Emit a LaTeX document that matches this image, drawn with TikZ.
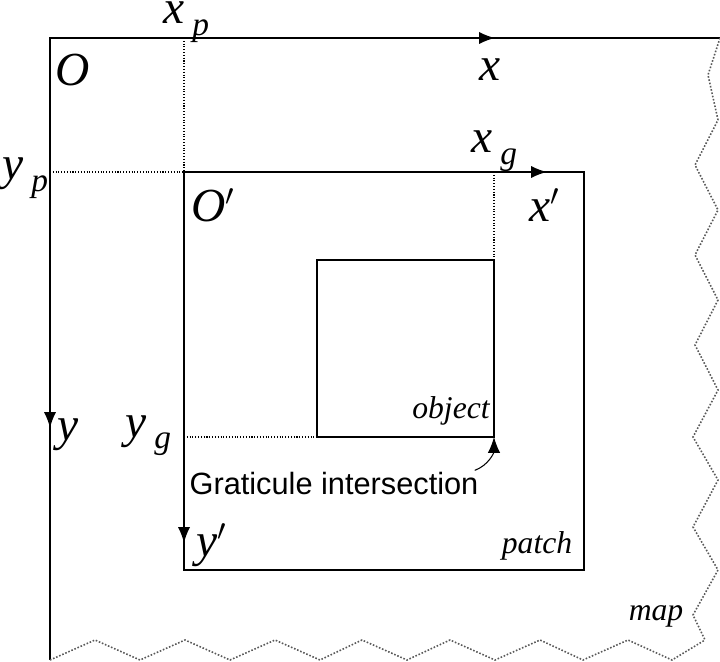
\documentclass[tikz,border=0pt]{standalone}
\usepackage{fontspec}
\setmainfont{Liberation Serif}
\setsansfont{Liberation Sans}
\usetikzlibrary{arrows.meta}
\newcommand{\sbx}[1]{\,\raisebox{-0.25em}{\fontsize{19}{19}\selectfont #1}}
\begin{document}
\begin{tikzpicture}[x=0.02cm,y=-0.02cm,
  ln/.style={line width=1.1pt},
  dot/.style={densely dotted,line width=0.6pt},
  zz/.style={densely dotted,line width=0.9pt,gray!70!black},
  tip/.style={-{Latex[length=9pt,width=7pt]}},
  big/.style={font=\fontsize{27}{30}\selectfont\itshape,inner sep=0pt},
  lab/.style={font=\fontsize{18}{20}\selectfont\itshape,inner sep=0pt}]
\useasboundingbox (0,0) rectangle (720,662);
% map frame
\coordinate (O) at (50,38);
\coordinate (TR) at (720,38);
\coordinate (BL) at (50,660);
\draw[ln] (BL) -- (O) -- (TR);
\draw[ln,tip] (O) -- (495,38);
\draw[ln,tip] (O) -- (50,428);
\draw[zz] (TR) -- (708,75) -- (718,120) -- (695,165) -- (718,210) -- (695,255) -- (718,300) -- (695,345) -- (718,390) -- (693,437) -- (718,480) -- (693,527) -- (718,570) -- (693,615) -- (705,640);
\draw[zz] (BL) -- (95,640) -- (140,660) -- (185,640) -- (230,660) -- (275,640) -- (320,660) -- (362,640) -- (407,660) -- (450,640) -- (495,660) -- (540,640) -- (583,660) -- (628,640) -- (672,660) -- (705,640);
% patch
\coordinate (Op) at (184,172);
\draw[ln] (Op) rectangle (584,570);
\draw[ln,tip] (Op) -- (547,172);
\draw[ln,tip] (Op) -- (184,543);
% object
\coordinate (G) at (494,437);
\draw[ln] (317,260) rectangle (G);
% dotted guides
\draw[dot] (184,38) -- (Op);
\draw[dot] (50,172) -- (Op);
\draw[dot] (494,172) -- (494,260);
\draw[dot] (184,437) -- (317,437);
% labels
\node[big,anchor=base west] (lxp) at (163,24) {x\sbx{p}};
\node[big] (lO) at (73,70) {O};
\node[big] (lx) at (490,70) {x};
\node[big,anchor=base west] (lxg) at (471,153) {x\sbx{g}};
\node[big,anchor=base west] (lyp) at (2,180) {y\sbx{p}};
\node[big] (lOp) at (213,205) {O$'$};
\node[big] (lxpr) at (545,205) {x$'$};
\node[big] (ly) at (68,435) {y};
\node[big,anchor=base west] (lyg) at (125,437) {y\sbx{g}};
\node[big] (lypr) at (212,545) {y$'$};
\node[lab] (lobj) at (451,411) {object};
\node[lab] (lpatch) at (537,546) {patch};
\node[lab] (lmap) at (656,616) {map};
\node[font=\sffamily\fontsize{17.5}{20}\selectfont,inner sep=0pt] (grat) at (334,484) {Graticule intersection};
\draw[line width=0.6pt,-{Latex[length=9pt,width=7pt]}] (grat.north east) ++(-4,-2) to[out=20,in=-90] (G);
\end{tikzpicture}
\end{document}
